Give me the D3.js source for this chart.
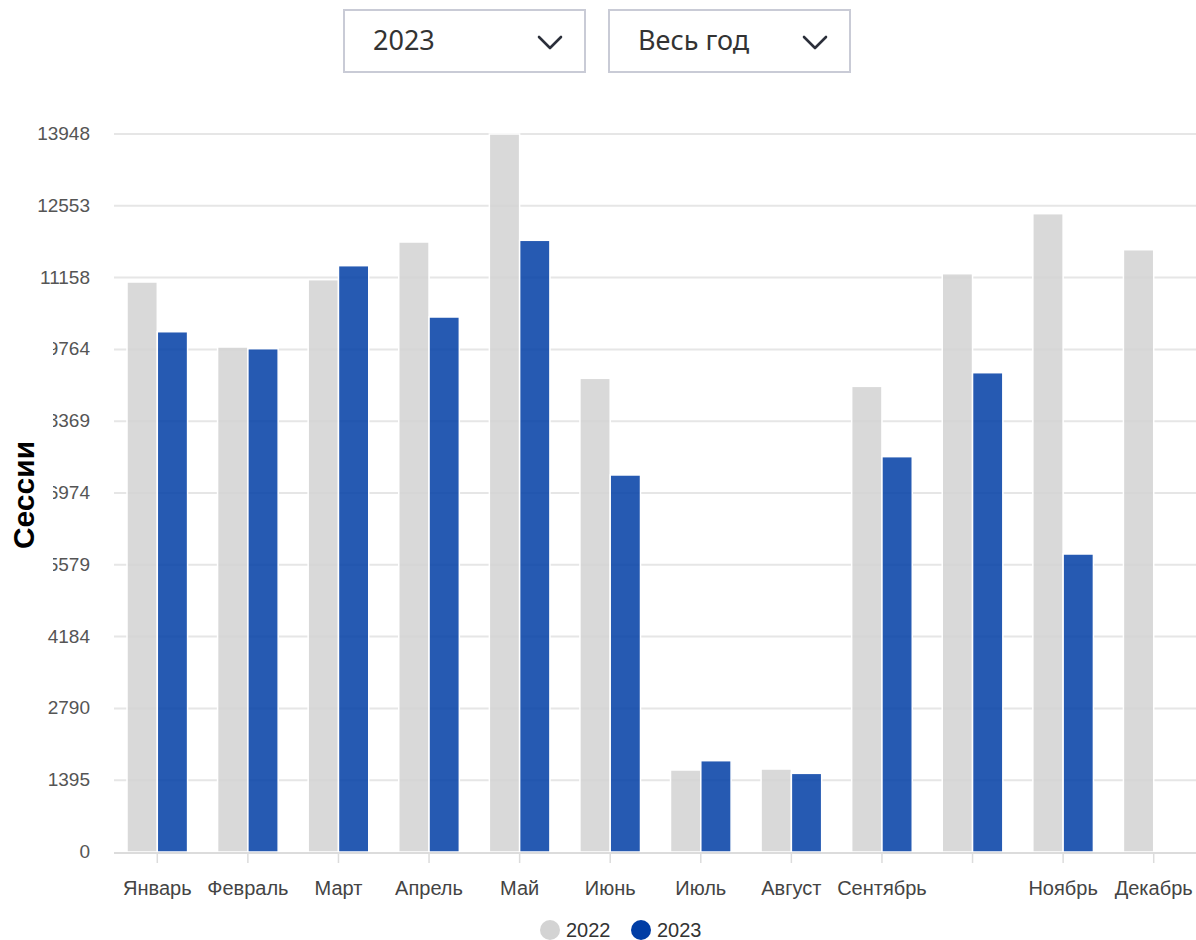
<!DOCTYPE html>
<html><head><meta charset="utf-8">
<script src="https://cdn.jsdelivr.net/npm/d3@7"></script>
<style>
html,body{margin:0;padding:0;background:#fff;overflow:hidden}
svg{display:block}
</style></head>
<body>
<svg id="chart" width="1196" height="940"></svg>
<script>
const categories = ["Январь","Февраль","Март","Апрель","Май","Июнь","Июль","Август","Сентябрь","Октябрь","Ноябрь","Декабрь"];
const tickLabels = ["Январь","Февраль","Март","Апрель","Май","Июнь","Июль","Август","Сентябрь","","Ноябрь","Декабрь"];
const seriesNames = ["2022","2023"];
const values2022 = [11073, 9810, 11118, 11850, 13948, 9202, 1593, 1612, 9046, 11234, 12400, 11700];
const values2023 = [10107, 9777, 11390, 10393, 11883, 7324, 1774, 1528, 7680, 9311, 5789, null];
const yTicks = [0, 1395, 2790, 4184, 5579, 6974, 8369, 9764, 11158, 12553, 13948];
const yearOptions = ["2023"];
const periodOptions = ["Весь год"];
const yTitle = "Сессии";

const colors = {"2022":"#d2d2d2","2023":"#003da5"};
const svg = d3.select("#chart");
const font = "'Liberation Sans', Arial, sans-serif";

// dropdowns
const dd = [{x:344, text:yearOptions[0]}, {x:609, text:periodOptions[0]}];
const g0 = svg.append("g");
dd.forEach(d=>{
  const g = g0.append("g").attr("transform",`translate(${d.x},10)`);
  g.append("rect").attr("x",0).attr("y",0).attr("width",241).attr("height",62)
    .attr("fill","#fff").attr("stroke","#c9cbd6").attr("stroke-width",2);
  g.append("text").attr("x",29).attr("y",40).text(d.text)
    .attr("font-family","'Noto Sans', 'Open Sans', sans-serif").attr("font-size",27).attr("fill","#333");
  g.append("polyline").attr("points","195,27 206,38 217,27")
    .attr("fill","none").attr("stroke","#2b2f3a").attr("stroke-width",2.6).attr("stroke-linecap","round").attr("stroke-linejoin","round");
});

const x0 = d3.scaleBand().domain(categories).range([112, 1199]).padding(0);
const bw = x0.bandwidth();
const x1 = d3.scaleBand().domain(seriesNames).range([15, bw-15]).padding(0);
const y = d3.scaleLinear().domain([0, 13948]).range([852, 134]);

// grid
svg.append("g").selectAll("line").data(yTicks.slice(1)).join("line")
  .attr("x1",114).attr("x2",1196).attr("y1",d=>y(d)).attr("y2",d=>y(d))
  .attr("stroke","#e6e6e6").attr("stroke-width",2);

// y labels
svg.append("g").selectAll("text").data(yTicks).join("text")
  .attr("x",90).attr("y",d=>y(d)+6).attr("text-anchor","end")
  .attr("font-family",font).attr("font-size",19).attr("fill","#555").text(d=>d);

// bars
const rows = categories.map((c,i)=>({cat:c, vals:[{k:"2022",v:values2022[i]},{k:"2023",v:values2023[i]}]}));
const gb = svg.append("g");
gb.selectAll("g").data(rows).join("g").attr("transform",d=>`translate(${x0(d.cat)},0)`)
  .selectAll("rect").data(d=>d.vals.filter(v=>v.v!=null)).join("rect")
  .attr("x",d=>x1(d.k)).attr("width",x1.bandwidth())
  .attr("y",d=>y(d.v)).attr("height",d=>y(0)-y(d.v))
  .attr("fill",d=>colors[d.k]).attr("fill-opacity",0.85)
  .attr("stroke","#fff").attr("stroke-width",1.5);

// x axis
const xa = svg.append("g");
xa.append("line").attr("x1",114).attr("x2",1196).attr("y1",853).attr("y2",853).attr("stroke","#dcdcdc").attr("stroke-width",2);
xa.selectAll("line.t").data(categories).join("line").attr("class","t")
  .attr("x1",d=>x0(d)+bw/2).attr("x2",d=>x0(d)+bw/2).attr("y1",853).attr("y2",863)
  .attr("stroke","#dcdcdc").attr("stroke-width",1.5);
xa.selectAll("text").data(categories).join("text")
  .attr("x",d=>x0(d)+bw/2).attr("y",895).attr("text-anchor","middle")
  .attr("font-family",font).attr("font-size",20).attr("fill","#444")
  .text((d,i)=>tickLabels[i]);

// y title with its background
svg.append("rect").attr("x",0).attr("y",338).attr("width",53).attr("height",238).attr("fill","#fff");
svg.append("text").attr("transform","translate(34,495) rotate(-90)").attr("text-anchor","middle")
  .attr("font-family",font).attr("font-weight","bold").attr("font-size",30).attr("fill","#000").text(yTitle);

// legend
const lg = svg.append("g");
const legendPos = [{k:"2022",cx:550,tx:566},{k:"2023",cx:641,tx:657}];
legendPos.forEach(p=>{
  lg.append("circle").attr("cx",p.cx).attr("cy",930).attr("r",10).attr("fill",p.k==="2022"?"#d3d3d3":colors[p.k]);
  lg.append("text").attr("x",p.tx).attr("y",937).attr("font-family",font).attr("font-size",20).attr("fill","#333").text(p.k);
});
</script>
</body></html>
